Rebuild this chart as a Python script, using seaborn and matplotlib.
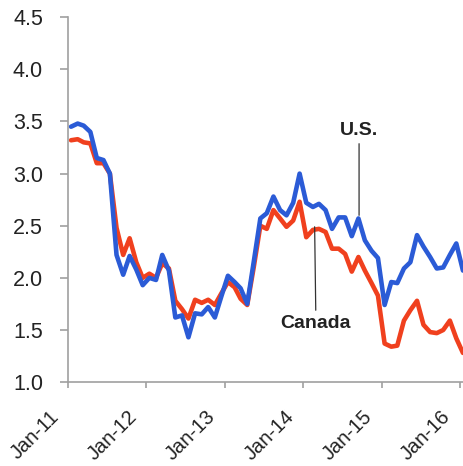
import matplotlib
matplotlib.use("Agg")
import matplotlib.pyplot as plt
import matplotlib.dates as mdates
import matplotlib.transforms as mtransforms
import pandas as pd
import seaborn as sns

# monthly values, Jan-11 .. Jan-16
us = [3.45, 3.48, 3.46, 3.40, 3.15, 3.13, 3.00, 2.22, 2.03, 2.21, 2.08, 1.93,
      2.00, 1.98, 2.22, 2.07, 1.62, 1.64, 1.43, 1.66, 1.65, 1.72, 1.62, 1.82,
      2.02, 1.96, 1.90, 1.75, 2.15, 2.57, 2.62, 2.78, 2.65, 2.60, 2.72, 3.00,
      2.72, 2.68, 2.71, 2.65, 2.47, 2.58, 2.58, 2.40, 2.57, 2.36, 2.26, 2.19,
      1.74, 1.96, 1.95, 2.09, 2.15, 2.41, 2.30, 2.20, 2.09, 2.10, 2.22, 2.33,
      2.07]
canada = [3.32, 3.33, 3.30, 3.29, 3.10, 3.10, 3.00, 2.48, 2.22, 2.38, 2.15, 2.00,
          2.04, 2.00, 2.14, 2.09, 1.78, 1.70, 1.61, 1.79, 1.76, 1.79, 1.74, 1.85,
          1.96, 1.91, 1.80, 1.74, 2.10, 2.50, 2.47, 2.65, 2.57, 2.49, 2.55, 2.73,
          2.39, 2.46, 2.47, 2.44, 2.28, 2.28, 2.23, 2.06, 2.20, 2.07, 1.95, 1.83,
          1.37, 1.34, 1.35, 1.59, 1.69, 1.78, 1.55, 1.48, 1.47, 1.50, 1.59, 1.42,
          1.28]
dates = pd.date_range("2011-01-01", periods=len(us), freq="MS") + pd.Timedelta(days=14)
y_ticks = [1.0, 1.5, 2.0, 2.5, 3.0, 3.5, 4.0, 4.5]
x_ticks = pd.date_range("2011-01-01", "2016-01-01", freq="YS")

df = pd.concat([
    pd.DataFrame({"date": dates, "value": us, "series": "U.S."}),
    pd.DataFrame({"date": dates, "value": canada, "series": "Canada"}),
])

sns.set_theme(style="white")
plt.rcParams["font.family"] = ["Liberation Sans", "DejaVu Sans"]

fig = plt.figure(figsize=(4.64, 4.66), dpi=100)
ax = fig.add_axes([0.1466, 0.180, 0.853, 0.783])

sns.lineplot(data=df, x="date", y="value", hue="series",
             hue_order=["Canada", "U.S."],
             palette={"U.S.": "#2b5bd6", "Canada": "#f0401e"},
             linewidth=3.3, legend=False, ax=ax)

ax.set_ylim(1.0, 4.5)
ax.set_xlim(pd.Timestamp("2011-01-01"), pd.Timestamp("2016-01-19"))
ax.set_yticks(y_ticks)
ax.set_yticklabels([f"{v:.1f}" for v in y_ticks])
ax.set_xticks(x_ticks)
ax.xaxis.set_major_formatter(mdates.DateFormatter("%b-%y"))
ax.set_xlabel("")
ax.set_ylabel("")

for side in ["top", "right"]:
    ax.spines[side].set_visible(False)
for side in ["left", "bottom"]:
    ax.spines[side].set_color("#a0a0a0")
    ax.spines[side].set_linewidth(1.2)

ax.tick_params(axis="y", left=True, length=6, width=1.2, color="#a0a0a0",
               labelsize=15.5, labelcolor="#222222", pad=12)
ax.tick_params(axis="x", bottom=True, length=4, width=1.2, color="#a0a0a0",
               labelsize=14.5, labelcolor="#222222", pad=14)
shift = mtransforms.ScaledTranslation(-0.19, 0, fig.dpi_scale_trans)
for lab in ax.get_xticklabels():
    lab.set_rotation(45)
    lab.set_ha("right")
    lab.set_va("top")
    lab.set_rotation_mode("anchor")
    lab.set_transform(lab.get_transform() + shift)

label_font = ["Liberation Sans Narrow", "Liberation Sans", "DejaVu Sans"]
ax.annotate("U.S.", xy=(dates[44] + pd.Timedelta(days=3), 2.60),
            xytext=(dates[44] + pd.Timedelta(days=3), 3.37), ha="center", va="baseline",
            fontsize=14, fontweight="bold", family=label_font, color="#222222",
            arrowprops=dict(arrowstyle="-", color="#333333", lw=0.9,
                            shrinkA=1, shrinkB=0))
ax.annotate("Canada", xy=(dates[37] + pd.Timedelta(days=8), 2.49),
            xytext=(dates[37] + pd.Timedelta(days=14), 1.52), ha="center", va="baseline",
            fontsize=14, fontweight="bold", family=label_font, color="#222222",
            arrowprops=dict(arrowstyle="-", color="#333333", lw=0.9,
                            shrinkA=1, shrinkB=0))

fig.savefig("out.png", dpi=100)
